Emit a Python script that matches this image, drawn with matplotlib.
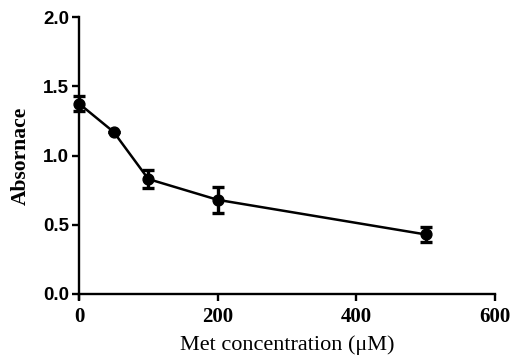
import matplotlib
matplotlib.use("Agg")
import matplotlib.pyplot as plt

conc = [0, 50, 100, 200, 500]
absorb = [1.375, 1.17, 0.83, 0.68, 0.43]
err = [0.055, 0.0, 0.065, 0.094, 0.055]
xticks = [0, 200, 400, 600]
yticks = [0.0, 0.5, 1.0, 1.5, 2.0]

fig = plt.figure(figsize=(5.11, 3.61), dpi=100)
ax = fig.add_axes([79/511, 67/361, 416/511, 277/361])

ax.errorbar(conc, absorb, yerr=err, color="black", lw=1.8, marker="o", ms=7.8,
            capsize=4.3, capthick=2.4, elinewidth=2.4, clip_on=False, zorder=3)

ax.set_xlim(0, 600)
ax.set_ylim(0, 2.0)
ax.set_xticks(xticks)
ax.set_yticks(yticks)
ax.set_xticklabels([str(v) for v in xticks], family="Liberation Serif", fontweight="bold", fontsize=15)
ax.set_yticklabels([f"{v:.1f}" for v in yticks], family="Liberation Sans", fontweight="bold", fontsize=13.5)
ax.set_xlabel("Met concentration (\u03bcM)", family="Liberation Serif", fontsize=16, labelpad=6)
ax.set_ylabel("Absornace", family="Liberation Serif", fontweight="bold", fontsize=15.5, labelpad=9)

for s in ["top", "right"]:
    ax.spines[s].set_visible(False)
for s in ["left", "bottom"]:
    ax.spines[s].set_linewidth(1.7)
ax.spines["left"].set_bounds(-0.035, 2.0)
ax.tick_params(width=1.7, length=5, direction="out", pad=2)
ax.tick_params(axis="x", pad=4)

fig.savefig("out.png", dpi=100)
